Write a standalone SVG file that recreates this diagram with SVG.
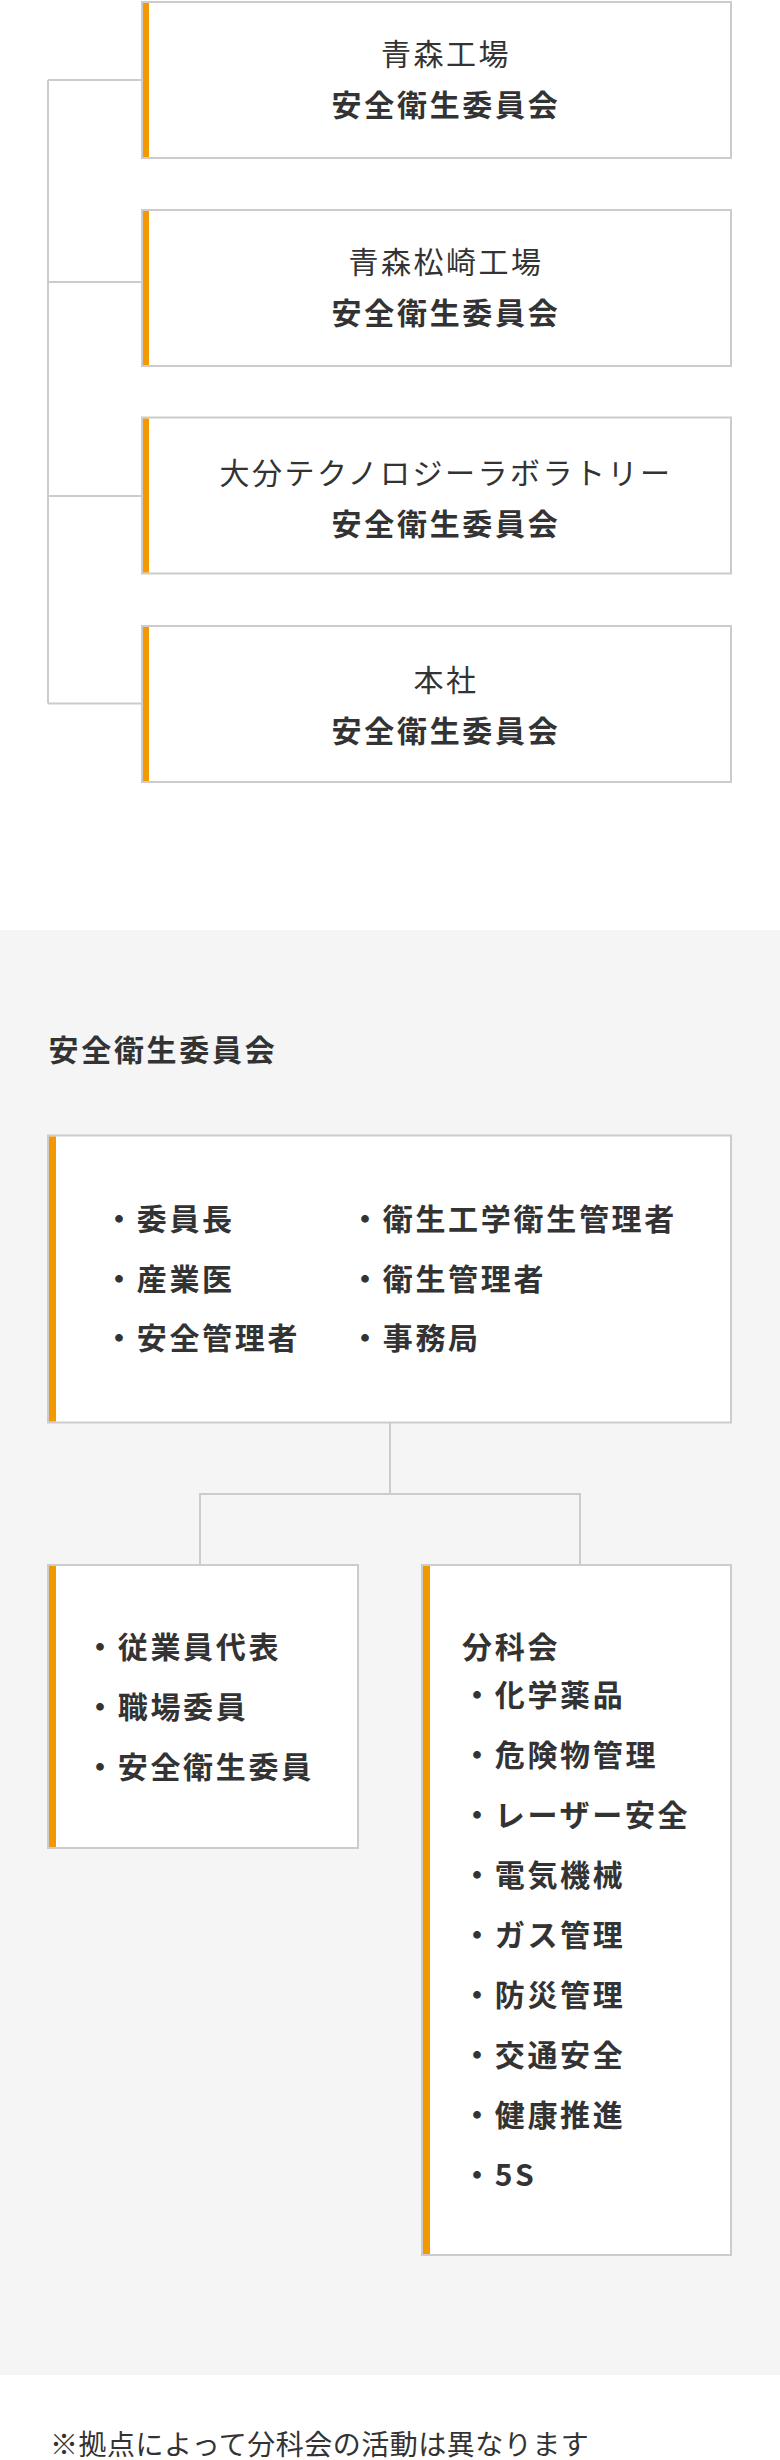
<svg xmlns="http://www.w3.org/2000/svg" width="780" height="2460" viewBox="0 0 780 2460">
<style>
.box{fill:#ffffff;stroke:#cccccc;stroke-width:2}
.bar{fill:#f39800}
.ln{fill:none;stroke:#cccccc;stroke-width:2}
text{font-family:"Noto Sans CJK JP","Noto Sans",sans-serif;fill:#333333}
.r{font-size:30px;font-weight:400;letter-spacing:2.5px}
.b{font-size:30px;font-weight:700;letter-spacing:2.7px}
.c{text-anchor:middle}
.note{font-size:28px;font-weight:400;letter-spacing:0.5px}
</style>
<rect x="0" y="0" width="780" height="2460" fill="#ffffff"/>
<rect x="0" y="930" width="780" height="1445" fill="#f6f5f6"/>
<g id="connectors">
<path class="ln" d="M48 80V703.5M48 80H142M48 282H142M48 496H142M48 703.5H142"/>
<path class="ln" d="M390 1423V1494M200 1494H580M200 1493V1565M580 1493V1565"/>
</g>
<g id="aomori">
<rect class="box" x="142" y="2" width="589" height="156"/>
<rect class="bar" x="143" y="3" width="6" height="154"/>
<text class="r c" x="446" y="64.5">青森工場</text>
<text class="b c" x="446" y="115.5">安全衛生委員会</text>
</g>
<g id="aomori-matsuzaki">
<rect class="box" x="142" y="210" width="589" height="156"/>
<rect class="bar" x="143" y="211" width="6" height="154"/>
<text class="r c" x="446" y="272.5">青森松崎工場</text>
<text class="b c" x="446" y="323.5">安全衛生委員会</text>
</g>
<g id="oita">
<rect class="box" x="142" y="417.5" width="589" height="156"/>
<rect class="bar" x="143" y="418.5" width="6" height="154"/>
<text class="r c" x="446" y="483.5">大分テクノロジーラボラトリー</text>
<text class="b c" x="446" y="534.5">安全衛生委員会</text>
</g>
<g id="honsha">
<rect class="box" x="142" y="626" width="589" height="156"/>
<rect class="bar" x="143" y="627" width="6" height="154"/>
<text class="r c" x="446" y="690.5">本社</text>
<text class="b c" x="446" y="741.5">安全衛生委員会</text>
</g>
<g id="title">
<text class="b" x="48.5" y="1061">安全衛生委員会</text>
</g>
<g id="committee">
<rect class="box" x="48" y="1135.5" width="683" height="287"/>
<rect class="bar" x="49" y="1136.5" width="7" height="285"/>
<text class="b" x="104" y="1229.5">・委員長</text>
<text class="b" x="104" y="1290">・産業医</text>
<text class="b" x="104" y="1349">・安全管理者</text>
<text class="b" x="350" y="1229.5">・衛生工学衛生管理者</text>
<text class="b" x="350" y="1290">・衛生管理者</text>
<text class="b" x="350" y="1349">・事務局</text>
</g>
<g id="members">
<rect class="box" x="48" y="1565" width="310" height="283"/>
<rect class="bar" x="49" y="1566" width="7" height="281"/>
<text class="b" x="85" y="1657.5">・従業員代表</text>
<text class="b" x="85" y="1717.5">・職場委員</text>
<text class="b" x="85" y="1777.5">・安全衛生委員</text>
</g>
<g id="subcommittee">
<rect class="box" x="422" y="1565" width="309" height="690"/>
<rect class="bar" x="423" y="1566" width="7" height="688"/>
<text class="b" x="462" y="1657.5">分科会</text>
<text class="b" x="462" y="1705.5">・化学薬品</text>
<text class="b" x="462" y="1765.5">・危険物管理</text>
<text class="b" x="462" y="1825.5">・レーザー安全</text>
<text class="b" x="462" y="1885.5">・電気機械</text>
<text class="b" x="462" y="1945.5">・ガス管理</text>
<text class="b" x="462" y="2005.5">・防災管理</text>
<text class="b" x="462" y="2065.5">・交通安全</text>
<text class="b" x="462" y="2125.5">・健康推進</text>
<text class="b" x="462" y="2185.5">・5S</text>
</g>
<g id="note">
<text class="note" x="50" y="2454.5">※拠点によって分科会の活動は異なります</text>
</g>
</svg>
